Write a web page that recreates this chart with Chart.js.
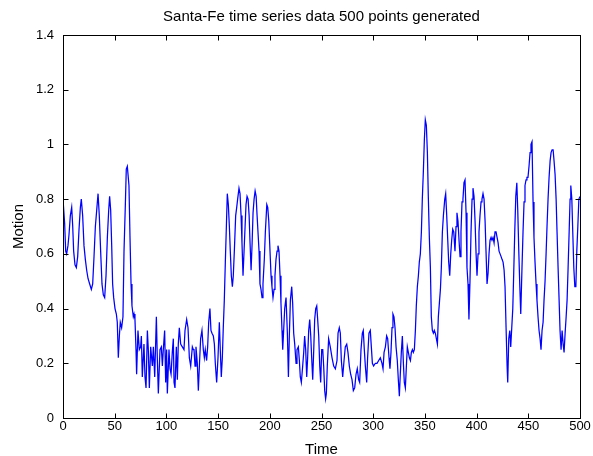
<!DOCTYPE html>
<html>
<head>
<meta charset="utf-8">
<script src="https://cdn.jsdelivr.net/npm/chart.js@4.4.1/dist/chart.umd.min.js"></script>
<style>
  html, body { margin: 0; padding: 0; background: #fff; }
  #wrap { width: 593px; height: 456px; }
</style>
</head>
<body>
<div id="wrap"><canvas id="chart" width="593" height="456"></canvas></div>
<script>
const TITLE = "Santa-Fe time series data 500 points generated";
const X_LABEL = "Time";
const Y_LABEL = "Motion";

const xTicks = [0, 50, 100, 150, 200, 250, 300, 350, 400, 450, 500];
const yTicks = [0, 0.2, 0.4, 0.6, 0.8, 1, 1.2, 1.4];
const yTickLabels = ["0", "0.2", "0.4", "0.6", "0.8", "1", "1.2", "1.4"];

// [time, motion]
const samples = [
  [0, 0.80], [1.6, 0.71], [2.6, 0.61], [3.5, 0.60], [4.8, 0.63], [5.8, 0.67], [7.1, 0.74], [8.4, 0.77],
  [9.4, 0.70], [10.3, 0.61], [11.6, 0.56], [12.9, 0.55], [14.2, 0.59], [15.5, 0.69], [16.8, 0.77], [17.7, 0.80],
  [19.0, 0.74], [20.3, 0.63], [21.6, 0.58], [22.9, 0.54], [24.2, 0.51], [25.8, 0.49], [27.4, 0.47], [28.7, 0.49],
  [30.0, 0.59], [31.3, 0.70], [32.6, 0.76], [33.9, 0.82], [35.1, 0.74], [36.4, 0.61], [37.7, 0.49], [39.0, 0.45],
  [40.3, 0.44], [41.6, 0.52], [42.9, 0.66], [44.2, 0.76], [45.1, 0.81], [46.1, 0.76], [47.1, 0.63], [48.0, 0.49],
  [49.0, 0.44], [50.3, 0.40], [51.6, 0.38], [52.5, 0.35], [53.5, 0.22], [54.5, 0.30], [55.4, 0.35], [56.7, 0.33],
  [58.0, 0.37], [59.0, 0.61], [60.3, 0.78], [61.2, 0.91],
  [62.2, 0.92], [63.8, 0.85], [64.8, 0.66], [65.8, 0.49], [66.7, 0.41], [68.0, 0.37], [68.7, 0.38], [69.6, 0.36],
  [70.6, 0.25], [71.2, 0.16], [72.5, 0.32], [73.8, 0.25], [75.1, 0.26], [75.8, 0.30], [76.7, 0.15], [78.3, 0.27],
  [79.3, 0.15], [80.3, 0.11], [81.6, 0.32], [82.5, 0.25], [83.5, 0.11], [84.8, 0.26], [86.4, 0.19], [87.4, 0.26],
  [88.7, 0.15], [90.3, 0.37], [91.2, 0.22], [92.2, 0.09], [93.8, 0.25], [95.1, 0.26], [96.1, 0.19], [97.0, 0.25],
  [98.3, 0.32], [99.3, 0.13], [100.2, 0.25], [100.9, 0.09], [102.5, 0.25], [103.5, 0.18], [104.5, 0.16], [105.7, 0.24],
  [106.7, 0.29], [107.4, 0.13], [108.3, 0.11], [109.6, 0.26], [110.6, 0.14], [111.5, 0.27], [112.5, 0.33], [113.8, 0.27],
  [115.4, 0.26], [117.0, 0.25], [118.0, 0.32], [119.6, 0.36], [120.9, 0.33], [122.2, 0.22], [123.5, 0.19], [125.1, 0.26],
  [126.1, 0.25],
  [126.7, 0.25], [127.7, 0.19], [128.6, 0.26], [129.9, 0.20], [130.9, 0.10], [131.9, 0.19], [133.1, 0.29], [134.4, 0.32],
  [135.7, 0.25], [136.7, 0.22], [137.6, 0.25], [138.9, 0.21], [139.9, 0.26], [140.9, 0.35], [142.1, 0.40], [143.1, 0.32],
  [144.1, 0.31], [145.4, 0.30], [146.4, 0.27], [147.3, 0.20], [148.6, 0.13], [149.9, 0.22], [151.2, 0.35], [152.2, 0.24],
  [153.1, 0.15], [154.1, 0.22], [155.0, 0.33], [156.0, 0.43], [157.0, 0.57], [158.0, 0.70], [158.9, 0.82], [159.9, 0.78],
  [160.9, 0.70], [161.8, 0.61], [162.8, 0.52], [163.8, 0.48], [164.7, 0.52], [165.7, 0.61], [167.0, 0.74], [168.0, 0.77],
  [168.9, 0.80], [170.2, 0.84], [171.2, 0.82], [172.2, 0.74], [173.1, 0.64], [174.1, 0.52], [175.1, 0.61], [176.1, 0.70],
  [177.0, 0.78], [178.0, 0.81], [179.0, 0.80], [180.0, 0.74], [180.9, 0.64], [181.9, 0.54], [182.9, 0.64], [183.8, 0.75],
  [184.8, 0.80], [185.8, 0.83], [186.8, 0.81], [187.7, 0.74],
  [189.6, 0.61], [190.5, 0.49], [191.5, 0.47], [192.5, 0.44], [193.4, 0.49], [194.7, 0.58], [195.7, 0.68], [197.1, 0.78],
  [198.0, 0.77], [199.0, 0.72], [200.2, 0.61], [201.2, 0.52], [202.1, 0.48], [203.1, 0.44], [204.1, 0.47], [205.0, 0.52],
  [206.0, 0.58], [207.0, 0.61], [207.9, 0.63], [208.9, 0.61], [209.9, 0.52], [210.8, 0.42], [211.8, 0.32], [212.5, 0.25],
  [213.4, 0.32], [214.4, 0.40], [215.7, 0.44], [217.0, 0.31], [218.0, 0.15], [218.9, 0.30], [219.9, 0.43], [221.2, 0.48],
  [222.1, 0.42], [223.1, 0.31], [224.1, 0.27], [225.4, 0.20], [226.3, 0.25], [227.6, 0.26], [228.6, 0.21], [229.5, 0.15],
  [230.5, 0.13], [231.8, 0.19], [232.8, 0.24], [233.7, 0.30], [234.7, 0.25], [235.7, 0.15], [236.6, 0.22], [237.6, 0.32],
  [238.6, 0.36], [239.6, 0.30], [240.5, 0.22], [241.5, 0.14], [242.5, 0.25], [243.4, 0.36], [244.4, 0.40], [245.4, 0.41],
  [246.3, 0.36], [247.3, 0.30], [248.3, 0.19], [249.2, 0.13], [250.2, 0.25], [251.2, 0.25], [252.1, 0.19], [253.1, 0.10],
  [254.0, 0.07], [254.7, 0.09], [255.6, 0.19], [256.9, 0.29], [258.5, 0.26], [260.2, 0.22], [261.8, 0.19], [263.4, 0.18],
  [265.0, 0.21], [266.0, 0.31], [267.2, 0.33], [268.2, 0.31], [269.2, 0.21], [270.5, 0.15], [271.8, 0.21], [273.0, 0.26],
  [274.4, 0.27], [275.6, 0.24], [276.9, 0.19], [278.2, 0.16], [279.5, 0.14], [280.8, 0.10], [282.1, 0.11], [283.4, 0.16],
  [284.6, 0.18], [285.9, 0.14], [286.9, 0.13], [288.2, 0.25], [289.5, 0.31], [290.4, 0.32], [291.4, 0.25], [292.4, 0.19],
  [293.7, 0.13], [294.6, 0.22], [295.9, 0.31], [297.2, 0.32], [298.2, 0.26], [299.2, 0.20], [300.4, 0.19], [302.1, 0.20],
  [303.7, 0.20], [305.3, 0.21], [306.9, 0.22], [308.5, 0.20], [309.5, 0.18], [310.5, 0.24], [311.8, 0.26], [313.0, 0.30],
  [314.0, 0.29],
  [315.3, 0.22], [316.2, 0.18], [317.2, 0.24], [318.2, 0.33], [319.1, 0.38], [320.1, 0.37], [321.1, 0.33], [322.1, 0.26],
  [323.3, 0.21], [324.3, 0.14], [325.3, 0.08], [326.2, 0.16], [327.2, 0.24], [328.2, 0.30], [329.2, 0.20], [330.1, 0.13],
  [331.1, 0.11], [332.1, 0.19], [333.0, 0.26], [334.0, 0.24], [335.0, 0.22], [336.0, 0.21], [336.9, 0.24], [337.9, 0.25],
  [338.8, 0.24], [339.8, 0.25], [340.8, 0.32], [341.7, 0.41], [342.7, 0.48], [343.7, 0.52], [344.6, 0.57], [345.6, 0.60],
  [346.6, 0.68], [347.5, 0.80], [348.5, 0.90], [349.5, 1.02], [350.4, 1.09], [351.4, 1.07], [352.4, 0.97], [353.3, 0.81],
  [354.3, 0.66], [355.3, 0.55], [356.2, 0.37], [357.2, 0.32], [358.2, 0.31], [359.1, 0.32], [360.1, 0.31], [361.1, 0.29],
  [362.1, 0.27], [363.0, 0.37], [364.0, 0.42], [365.0, 0.47], [365.9, 0.55], [366.9, 0.68], [367.9, 0.74], [369.2, 0.80],
  [370.1, 0.82], [371.1, 0.74], [372.1, 0.65], [373.0, 0.57], [374.0, 0.52], [375.0, 0.60], [375.9, 0.65], [376.9, 0.69],
  [377.9, 0.68],
  [379.1, 0.61], [380.1, 0.70], [381.0, 0.75], [382.0, 0.72], [383.0, 0.65], [384.0, 0.59], [384.9, 0.68], [385.9, 0.79],
  [386.8, 0.80], [387.8, 0.86], [388.8, 0.87], [389.8, 0.75], [390.7, 0.55], [391.7, 0.49], [392.6, 0.36], [393.6, 0.50],
  [394.6, 0.68], [395.6, 0.80], [396.5, 0.84], [397.5, 0.81], [398.5, 0.72], [399.5, 0.60], [400.4, 0.52], [401.4, 0.60],
  [402.3, 0.68], [403.3, 0.74], [404.3, 0.79], [405.2, 0.80], [406.2, 0.82], [407.2, 0.80], [408.2, 0.72], [409.1, 0.61],
  [410.1, 0.49], [411.1, 0.53], [412.0, 0.60], [413.0, 0.65], [414.0, 0.66], [414.9, 0.65], [415.9, 0.66], [416.9, 0.64],
  [417.8, 0.68], [418.8, 0.68], [419.8, 0.66], [420.8, 0.64], [421.7, 0.61], [422.7, 0.60], [423.7, 0.59], [424.6, 0.58],
  [425.6, 0.57], [426.6, 0.54], [427.5, 0.48], [428.5, 0.33], [429.5, 0.19], [430.1, 0.13], [431.1, 0.29], [432.1, 0.32],
  [433.0, 0.26], [434.0, 0.33], [435.0, 0.40], [435.9, 0.53], [436.9, 0.68], [437.9, 0.81], [438.9, 0.86], [439.8, 0.76],
  [440.8, 0.61], [441.8, 0.48], [442.7, 0.38],
  [443.9, 0.55], [444.9, 0.68], [445.9, 0.79], [446.8, 0.85], [447.8, 0.87], [448.7, 0.88], [449.7, 0.88], [450.7, 0.92],
  [451.7, 0.97], [452.6, 1.00], [453.6, 1.01], [454.6, 0.79], [455.5, 0.66], [456.5, 0.57], [457.5, 0.49], [458.4, 0.43],
  [459.4, 0.37], [460.4, 0.32], [461.4, 0.29], [462.3, 0.25], [463.3, 0.32], [464.3, 0.35], [465.2, 0.43], [466.2, 0.50],
  [467.2, 0.60], [468.1, 0.70], [469.1, 0.80], [470.1, 0.88], [471.1, 0.94], [472.0, 0.97], [473.0, 0.98], [474.0, 0.98],
  [474.9, 0.94], [475.9, 0.89], [476.9, 0.80], [477.8, 0.68], [478.8, 0.55], [479.8, 0.43], [480.7, 0.32], [481.7, 0.25],
  [482.7, 0.32], [483.7, 0.27], [484.6, 0.24], [485.6, 0.31], [486.6, 0.37], [487.5, 0.43], [488.5, 0.55], [489.5, 0.68],
  [490.4, 0.80], [491.1, 0.85], [492.1, 0.80], [493.0, 0.68], [494.0, 0.55], [495.0, 0.48], [496.0, 0.48], [496.9, 0.61],
  [497.9, 0.70], [498.9, 0.80], [500, 0.81]
];

const TICK_LEN = 5;
const FONT = "'Liberation Sans', Arial, Helvetica, sans-serif";

// MATLAB style box with inward tick marks on all four sides
const boxTicks = {
  id: 'boxTicks',
  afterDraw(chart) {
    const { ctx, chartArea: a, scales: { x, y } } = chart;
    const L = Math.round(a.left) + 0.5, R = Math.round(a.right) + 0.5;
    const T = Math.round(a.top) + 0.5, B = Math.round(a.bottom) + 0.5;
    ctx.save();
    ctx.strokeStyle = '#000';
    ctx.lineWidth = 1;
    ctx.beginPath();
    x.ticks.forEach(t => {
      const px = Math.round(x.getPixelForValue(t.value)) + 0.5;
      ctx.moveTo(px, B); ctx.lineTo(px, B - TICK_LEN);
      ctx.moveTo(px, T); ctx.lineTo(px, T + TICK_LEN);
    });
    y.ticks.forEach(t => {
      const py = Math.round(y.getPixelForValue(t.value)) + 0.5;
      ctx.moveTo(L, py); ctx.lineTo(L + TICK_LEN, py);
      ctx.moveTo(R, py); ctx.lineTo(R - TICK_LEN, py);
    });
    ctx.stroke();
    ctx.strokeRect(L, T, R - L, B - T);
    ctx.restore();
  }
};

Chart.defaults.font.family = FONT;
Chart.defaults.color = '#000';

chart = new Chart(document.getElementById("chart"), {
  type: "line",
  data: {
    datasets: [{
      label: Y_LABEL,
      data: samples.map(p => ({ x: p[0], y: p[1] })),
      borderColor: 'rgb(0,0,255)',
      borderWidth: 1.25,
      pointRadius: 0,
      fill: false,
      tension: 0
    }]
  },
  options: {
    responsive: false,
    animation: false,
    events: [],
    layout: {
      padding: { left: 0, right: 13, top: 0, bottom: 0 }
    },
    scales: {
      x: {
        type: 'linear',
        min: 0,
        max: 500,
        afterBuildTicks: (scale) => { scale.ticks = xTicks.map(v => ({ value: v })); },
        afterFit: (scale) => { scale.height = 38; },
        grid: { display: false, drawTicks: false },
        border: { display: false },
        ticks: {
          padding: 1,
          maxRotation: 0,
          autoSkip: false,
          font: { size: 13 },
          callback: (value) => String(value)
        },
        title: {
          display: true,
          text: X_LABEL,
          font: { size: 15, lineHeight: 1 },
          padding: { top: 0, bottom: -1 }
        }
      },
      y: {
        type: 'linear',
        min: 0,
        max: 1.4,
        afterBuildTicks: (scale) => { scale.ticks = yTicks.map(v => ({ value: v })); },
        afterFit: (scale) => { scale.width = 63; },
        grid: { display: false, drawTicks: false },
        border: { display: false },
        ticks: {
          padding: 9,
          autoSkip: false,
          font: { size: 13 },
          callback: (value, index) => yTickLabels[index]
        },
        title: {
          display: true,
          text: Y_LABEL,
          font: { size: 15, lineHeight: 1 },
          padding: { top: 11, bottom: 0 }
        }
      }
    },
    plugins: {
      legend: { display: false },
      tooltip: { enabled: false },
      title: {
        display: true,
        text: TITLE,
        fullSize: false,
        font: { size: 15, weight: 'normal', lineHeight: 1.2 },
        padding: { top: 8, bottom: 9 }
      }
    }
  },
  plugins: [boxTicks]
});
</script>
</body>
</html>
